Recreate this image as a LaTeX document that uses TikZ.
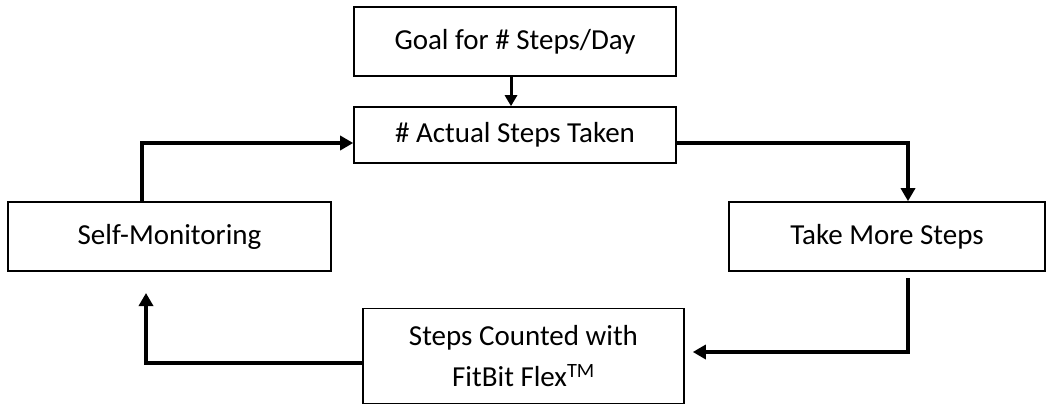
\documentclass[tikz,border=0pt]{standalone}
\usepackage{fontspec}
\setmainfont{Carlito}
\usetikzlibrary{arrows.meta,calc}
\begin{document}
\begin{tikzpicture}[x=1pt,y=-1pt,
  box/.style={draw,line width=1.6pt,inner sep=0pt,font=\fontsize{29}{41}\selectfont,align=center},
  flow/.style={line width=4pt,-{Triangle[length=13pt,width=14pt]}},
  thin flow/.style={line width=3pt,-{Triangle[length=11pt,width=12pt]}}]
\useasboundingbox (0,0) rectangle (1047,404);
\node[box,minimum width=322pt,minimum height=69pt] (goal) at (515,41.5) {Goal for \# Steps/Day};
\node[box,minimum width=322pt,minimum height=56pt] (actual) at (515,135) {\# Actual Steps Taken};
\node[box,minimum width=323pt,minimum height=69pt] (self) at (169.5,236.5) {Self-Monitoring};
\node[box,minimum width=316pt,minimum height=69pt] (take) at (887,236.5) {Take More Steps};
\node[box,minimum width=321pt,minimum height=95pt] (steps) at (523.5,356) {Steps Counted with\\FitBit Flex\textsuperscript{TM}};
\coordinate (c1) at (142,143);
\coordinate (c2) at (908,352);
\coordinate (c3) at (146,363);
\coordinate (c4) at (146,293);
\coordinate (c5) at (908,278);
\draw[thin flow] (goal.south -| 511,0) -- (actual.north -| 511,0);
\draw[flow] (self.north -| c1) |- (actual.west |- c1);
\draw[flow] (actual.east |- c1) -| (take.north -| c2);
\draw[flow,shorten >=8pt] (c5) |- (steps.east |- c2);
\draw[flow] (steps.west |- c3) -| (c4);
\end{tikzpicture}
\end{document}
